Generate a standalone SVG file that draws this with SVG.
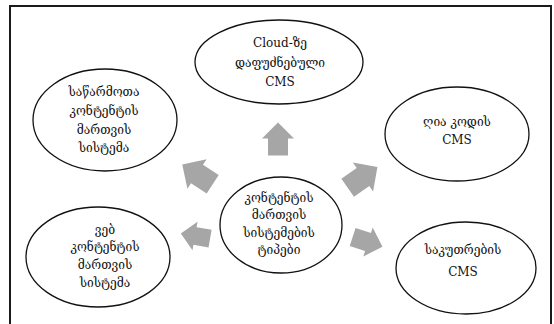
<svg xmlns="http://www.w3.org/2000/svg" width="554" height="324" viewBox="0 0 554 324">
<style>
.frame{fill:#fff;stroke:#1a1a1a;stroke-width:2}
.node ellipse{fill:#fff;stroke:#111;stroke-width:1.3}
.node text{font-family:"DejaVu Serif","Liberation Serif",serif;font-size:12px;fill:#111;text-anchor:middle}
.arr{fill:#a6a6a6}
</style>
<defs>
<path id="blk" d="M-17,-10 H0 V-16 L16,0 L0,16 V10 H-17 Z"/>
</defs>
<rect class="frame" x="10" y="6" width="541" height="330"/>
<g id="connectors">
<use href="#blk" class="arr" transform="translate(278,138.5) rotate(-90)"/>
<use href="#blk" class="arr" transform="translate(197,174) rotate(-147) scale(1.1)"/>
<use href="#blk" class="arr" transform="translate(363,177) rotate(-35) scale(1.1)"/>
<use href="#blk" class="arr" transform="translate(195,236) rotate(190) scale(0.9)"/>
<use href="#blk" class="arr" transform="translate(368,242) rotate(18) scale(0.95)"/>
</g>
<g id="n-top" class="node">
<ellipse cx="279" cy="62" rx="84" ry="42"/>
<text x="280" y="47">Cloud-ზე</text>
<text x="280" y="67">დაფუძნებული</text>
<text x="280" y="86">CMS</text>
</g>
<g id="n-topleft" class="node">
<ellipse cx="105" cy="120" rx="72" ry="51"/>
<text x="104" y="96">საწარმოთა</text>
<text x="104" y="115">კონტენტის</text>
<text x="104" y="134">მართვის</text>
<text x="104" y="152">სისტემა</text>
</g>
<g id="n-right" class="node">
<ellipse cx="457" cy="134" rx="72" ry="47"/>
<text x="457" y="126">ღია კოდის</text>
<text x="457" y="144">CMS</text>
</g>
<g id="n-center" class="node">
<ellipse cx="281" cy="225" rx="61" ry="48"/>
<text x="279" y="202">კონტენტის</text>
<text x="279" y="219">მართვის</text>
<text x="279" y="237">სისტემების</text>
<text x="279" y="254">ტიპები</text>
</g>
<g id="n-bottomleft" class="node">
<ellipse cx="98" cy="257" rx="72" ry="50"/>
<text x="105" y="234">ვებ</text>
<text x="105" y="251">კონტენტის</text>
<text x="105" y="269">მართვის</text>
<text x="105" y="287">სისტემა</text>
</g>
<g id="n-bottomright" class="node">
<ellipse cx="466" cy="268" rx="70" ry="46"/>
<text x="463" y="254">საკუთრების</text>
<text x="463" y="276">CMS</text>
</g>
</svg>
